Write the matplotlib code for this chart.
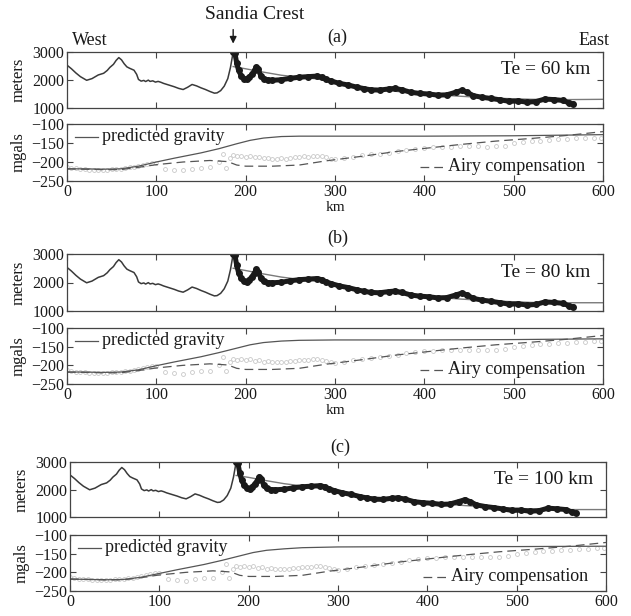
import matplotlib
matplotlib.use('Agg')
import matplotlib.pyplot as plt
import numpy as np

# ---- data ----
# western topography (thin line), km / m
west_km = [0, 5, 10, 15, 22, 28, 35, 41, 45, 48, 52, 55, 58, 61, 64, 67, 70, 75,
           78, 80, 83, 86, 88, 91, 93, 96, 99, 102, 105, 108, 112, 116, 120, 125,
           130, 135, 140, 145, 150, 155, 160, 165, 168, 172, 176, 180, 183, 186]
west_m = [2530, 2400, 2250, 2120, 1990, 2050, 2180, 2240, 2340, 2450, 2560, 2700,
          2800, 2720, 2580, 2470, 2420, 2350, 2200, 2020, 1960, 1985, 1945, 1995,
          1950, 1970, 1925, 1950, 1920, 1880, 1840, 1800, 1760, 1700, 1660, 1740,
          1840, 1790, 1720, 1660, 1590, 1530, 1540, 1620, 1780, 2050, 2450, 3000]

# eastern topography used in the fit (thick dotted line)
east_km = [186, 188, 190, 192, 195, 198, 201, 204, 207, 210, 212, 214, 217, 220,
           225, 230, 240, 250, 260, 270, 280, 285, 290, 296, 305, 315, 325, 333,
           340, 350, 360, 367, 375, 385, 395, 405, 415, 425, 435, 442, 448, 455,
           465, 475, 485, 495, 505, 515, 525, 535, 545, 555, 562, 566]
east_m = [3000, 2950, 2600, 2350, 2150, 2050, 2030, 2100, 2200, 2350, 2460, 2380,
          2150, 2050, 2000, 1990, 2010, 2060, 2100, 2120, 2140, 2100, 2020, 1960,
          1880, 1820, 1740, 1690, 1650, 1640, 1680, 1700, 1650, 1560, 1520, 1500,
          1460, 1470, 1560, 1630, 1560, 1440, 1380, 1340, 1290, 1240, 1250, 1210,
          1230, 1320, 1300, 1270, 1180, 1150]

# predicted (flexural) topography, one per Te
pred_topo_km = [186, 200, 220, 240, 260, 280, 300, 330, 360, 400, 440, 480, 520, 560, 600]
pred_topo = {
    60: [2480, 2400, 2280, 2170, 2100, 2040, 1920, 1720, 1620, 1500, 1420, 1350, 1310, 1300, 1310],
    80: [2500, 2420, 2300, 2190, 2110, 2050, 1940, 1740, 1630, 1510, 1420, 1350, 1300, 1290, 1290],
    100: [2510, 2440, 2320, 2210, 2130, 2060, 1950, 1760, 1640, 1510, 1420, 1340, 1290, 1270, 1270],
}

# gravity, mgal
grav_km = [0, 20, 40, 60, 80, 100, 120, 150, 170, 190, 205, 220, 240, 260, 300, 400, 500, 600]
pred_grav = {
    60: [-218, -218, -219, -218, -211, -200, -190, -176, -165, -152, -143, -137, -133, -132, -132, -132, -131, -128],
    80: [-218, -218, -219, -218, -212, -201, -191, -177, -166, -154, -145, -139, -135, -133, -132, -132, -131, -129],
    100: [-218, -219, -220, -219, -213, -203, -193, -179, -168, -156, -147, -141, -137, -134, -132, -131, -131, -130],
}

airy_km = [0, 20, 40, 60, 80, 100, 130, 160, 180, 190, 200, 230, 260, 290, 330,
           370, 405, 440, 480, 520, 560, 600]
airy_grav = [-218, -219, -220, -220, -214, -207, -200, -196, -199, -208, -211, -211,
             -208, -197, -185, -172, -163, -154, -145, -138, -130, -120]

obs_km = [0, 5, 10, 15, 20, 25, 30, 35, 40, 45, 50, 55, 60, 65, 70, 75, 80, 85, 90,
          95, 100, 110, 120, 130, 140, 150, 160, 170, 175, 178, 182, 186, 190, 195,
          200, 205, 210, 215, 220, 225, 230, 235, 240, 245, 250, 255, 260, 265, 270,
          275, 280, 285, 290, 295, 300, 310, 320, 330, 340, 350, 360, 370, 380, 390,
          400, 410, 420, 430, 440, 450, 460, 470, 480, 490, 500, 510, 520, 530, 540,
          550, 560, 570, 580, 590, 598]
obs_grav = [-212, -215, -217, -219, -219, -220, -220, -221, -220, -220, -219, -218,
            -218, -216, -214, -212, -210, -207, -205, -203, -202, -218, -220, -222,
            -219, -216, -214, -200, -178, -215, -190, -182, -185, -183, -186, -184,
            -188, -187, -190, -189, -191, -192, -190, -191, -189, -188, -186, -185,
            -186, -184, -183, -185, -188, -191, -193, -190, -186, -182, -180, -178,
            -175, -172, -168, -165, -162, -161, -160, -160, -159, -159, -158, -160,
            -159, -157, -150, -148, -146, -144, -142, -140, -139, -138, -137, -136,
            -136]

te_list = [60, 80, 100]
panel_tags = ['(a)', '(b)', '(c)']

# ---- plotting ----
W, H = 631, 616
plt.rcParams['font.family'] = ['Liberation Serif', 'DejaVu Serif']
plt.rcParams['axes.unicode_minus'] = True
txt_c = '#1a1a1a'
ax_c = '#444444'

fig = plt.figure(figsize=(W/100, H/100), dpi=100)

# pixel boxes: (left, right, topo_top, topo_bot, grav_top, grav_bot)
boxes = [(67, 603, 52, 108, 124, 181),
         (67, 603, 254, 311, 328, 384),
         (70, 606, 462, 517, 535, 591)]


def px_axes(l, r, t, b):
    return fig.add_axes([l/W, (H-b)/H, (r-l)/W, (b-t)/H])


def style(ax):
    for s in ax.spines.values():
        s.set_color(ax_c)
        s.set_linewidth(0.9)
    ax.tick_params(direction='in', top=True, right=True, length=4, width=0.8,
                   color=ax_c, labelsize=11.5, labelcolor=txt_c, pad=2)


for ii, te in enumerate(te_list):
    l, r, tt, tb, gt, gb = boxes[ii]
    axt = px_axes(l, r, tt, tb)
    axg = px_axes(l, r, gt, gb)

    # topography
    axt.plot(west_km, west_m, color='#3a3a3a', lw=1.1)
    axt.plot(pred_topo_km, pred_topo[te], color='#7a7a7a', lw=1.0)
    axt.plot(east_km, east_m, color='#1a1a1a', lw=3.6, marker='o', ms=4)
    axt.set_xlim(0, 600)
    axt.set_ylim(1000, 3000)
    axt.set_xticks(np.arange(0, 601, 100))
    axt.set_xticklabels([])
    axt.set_yticks([1000, 2000, 3000])
    style(axt)
    axt.set_ylabel('meters', fontsize=12, color=txt_c)
    axt.yaxis.set_label_coords(-0.075, 0.5)
    axt.text(0.976, 0.68, 'Te = %d km' % te, transform=axt.transAxes,
             ha='right', va='center', fontsize=14, color=txt_c)
    axt.text(0.505, 1.27, panel_tags[ii], transform=axt.transAxes,
             ha='center', va='center', fontsize=13, color=txt_c)

    # gravity
    axg.plot(obs_km, obs_grav, linestyle='none', marker='o', ms=2.8, mfc='none',
             mec='#c8c8c8', mew=0.6)
    axg.plot(grav_km, pred_grav[te], color='#555555', lw=0.9)
    axg.plot(airy_km, airy_grav, color='#555555', lw=0.9, ls=(0, (7, 4)))
    axg.set_xlim(0, 600)
    axg.set_ylim(-250, -100)
    axg.set_xticks(np.arange(0, 601, 100))
    axg.set_yticks([-250, -200, -150, -100])
    style(axg)
    axg.set_ylabel('mgals', fontsize=12, color=txt_c)
    axg.yaxis.set_label_coords(-0.075, 0.5)
    if ii < 2:
        axg.set_xlabel('km', fontsize=11, color=txt_c, labelpad=1)

    # in-panel legend entries
    axg.plot([9, 35], [-134, -134], color='#555555', lw=0.9)
    axg.text(39, -134, 'predicted gravity', fontsize=13, color=txt_c,
             ha='left', va='center')
    axg.plot([395, 421], [-212, -212], color='#555555', lw=0.9, ls=(0, (7, 4)))
    axg.text(426, -212, 'Airy compensation', fontsize=13, color=txt_c,
             ha='left', va='center')

    if ii == 0:
        axt.text(0.009, 1.12, 'West', transform=axt.transAxes, ha='left',
                 va='baseline', fontsize=13, color=txt_c)
        axt.text(1.013, 1.12, 'East', transform=axt.transAxes, ha='right',
                 va='baseline', fontsize=13, color=txt_c)
        axt.annotate('', xy=(186, 3200), xytext=(186, 3900),
                     arrowprops=dict(arrowstyle='-|>', color=txt_c, lw=1.0,
                                     mutation_scale=10),
                     annotation_clip=False)
        axt.text(210, 4330, 'Sandia Crest', ha='center', va='center',
                 fontsize=14, color=txt_c, clip_on=False)

fig.savefig('out.png', dpi=100, facecolor='white')
